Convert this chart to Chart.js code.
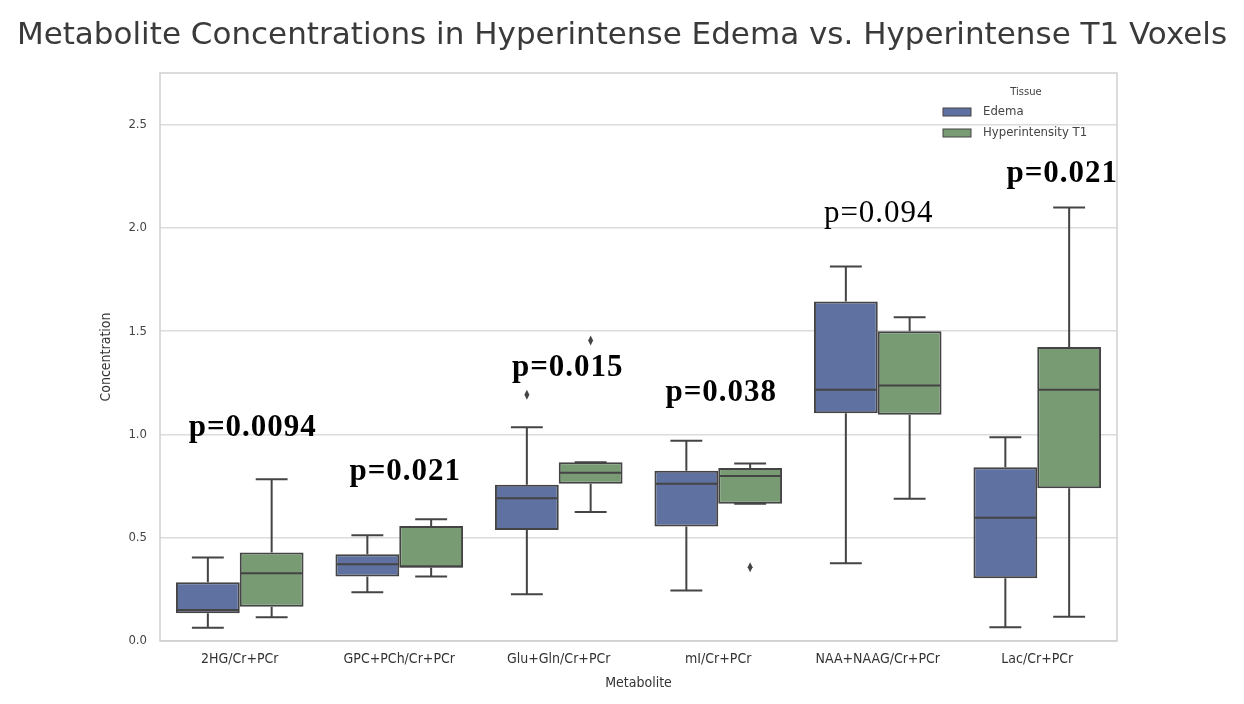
<!DOCTYPE html>
<html>
<head>
<meta charset="utf-8">
<script src="https://cdn.jsdelivr.net/npm/chart.js@4.4.1/dist/chart.umd.min.js"></script>
<style>
  html, body { margin: 0; padding: 0; background: #fff; }
  #wrap { width: 1244px; height: 704px; }
</style>
</head>
<body>
<div id="wrap"><canvas id="myChart" width="1244" height="704"></canvas></div>
<script>
var categories = ['2HG/Cr+PCr', 'GPC+PCh/Cr+PCr', 'Glu+Gln/Cr+PCr', 'mI/Cr+PCr', 'NAA+NAAG/Cr+PCr', 'Lac/Cr+PCr'];
var yTicks = [0, 0.5, 1.0, 1.5, 2.0, 2.5];

// Edema box stats
var edemaLo  = [0.064, 0.236, 0.226, 0.244, 0.376, 0.066];
var edemaQ1  = [0.134, 0.312, 0.538, 0.554, 1.103, 0.304];
var edemaMed = [0.150, 0.372, 0.691, 0.761, 1.216, 0.597];
var edemaQ3  = [0.284, 0.420, 0.756, 0.824, 1.644, 0.841];
var edemaHi  = [0.404, 0.512, 1.035, 0.969, 1.813, 0.987];
var edemaOut = [[], [], [1.192], [], [], []];

// Hyperintensity T1 box stats
var t1Lo  = [0.115, 0.312, 0.624, 0.664, 0.689, 0.118];
var t1Q1  = [0.166, 0.355, 0.761, 0.664, 1.095, 0.740];
var t1Med = [0.328, 0.362, 0.815, 0.799, 1.237, 1.216];
var t1Q3  = [0.428, 0.557, 0.866, 0.837, 1.500, 1.423];
var t1Hi  = [0.783, 0.590, 0.866, 0.859, 1.568, 2.099];
var t1Out = [[], [], [1.455], [0.357], [], []];

// p-value annotations
var pLabels = ['p=0.0094', 'p=0.021', 'p=0.015', 'p=0.038', 'p=0.094', 'p=0.021'];
var pBold   = [true, true, true, true, false, true];
var pAt     = [1.03, 0.82, 1.32, 1.20, 2.07, 2.26];

const ctx = document.getElementById('myChart');
const lineCol = '#444444';

const frame = {
  id: 'frame',
  beforeDatasetsDraw: function (chart) {
    const a = chart.chartArea, c = chart.ctx;
    c.save();
    c.strokeStyle = '#cfcfcf';
    c.lineWidth = 1.5;
    c.strokeRect(a.left, a.top, a.right - a.left, a.bottom - a.top);
    c.restore();
  }
};

const boxExtras = {
  id: 'boxExtras',
  afterDatasetsDraw: function (chart) {
    const c = chart.ctx, y = chart.scales.y;
    chart.data.datasets.forEach(function (ds, di) {
      const meta = chart.getDatasetMeta(di);
      meta.data.forEach(function (bar, i) {
        const x = bar.x, w = bar.width, cap = w / 4;
        const q1 = y.getPixelForValue(ds.q1[i]);
        const q3 = y.getPixelForValue(ds.q3[i]);
        const lo = y.getPixelForValue(ds.lo[i]);
        const hi = y.getPixelForValue(ds.hi[i]);
        const med = y.getPixelForValue(ds.med[i]);
        c.save();
        c.strokeStyle = lineCol;
        c.lineWidth = 2;
        c.beginPath();
        c.moveTo(x, q3); c.lineTo(x, hi);
        c.moveTo(x, q1); c.lineTo(x, lo);
        c.moveTo(x - cap, hi); c.lineTo(x + cap, hi);
        c.moveTo(x - cap, lo); c.lineTo(x + cap, lo);
        c.moveTo(x - w / 2 + 1, med); c.lineTo(x + w / 2 - 1, med);
        c.stroke();
        c.fillStyle = lineCol;
        ds.out[i].forEach(function (v) {
          const py = y.getPixelForValue(v);
          c.beginPath();
          c.moveTo(x, py - 5); c.lineTo(x + 2.5, py);
          c.lineTo(x, py + 5); c.lineTo(x - 2.5, py);
          c.closePath();
          c.fill();
        });
        c.restore();
      });
    });
  }
};

const texts = {
  id: 'texts',
  afterDraw: function (chart) {
    const c = chart.ctx, a = chart.chartArea, xs = chart.scales.x, y = chart.scales.y;
    c.save();
    // title
    c.fillStyle = '#3a3a3a';
    c.font = '31px "DejaVu Sans"';
    c.textAlign = 'center';
    c.textBaseline = 'middle';
    c.fillText('Metabolite Concentrations in Hyperintense Edema vs. Hyperintense T1 Voxels', chart.width / 2, 36);
    // p-values
    c.fillStyle = '#000';
    c.letterSpacing = '1px';
    const shift = [13, 6, 9, 3, 1, 25];
    pLabels.forEach(function (t, i) {
      c.font = (pBold[i] ? 'bold ' : '') + '31px "Liberation Serif"';
      c.fillText(t, xs.getPixelForValue(i) + shift[i], y.getPixelForValue(pAt[i]));
    });
    c.letterSpacing = '0px';
    // legend
    c.font = '10px "DejaVu Sans"';
    c.fillStyle = '#444';
    c.fillText('Tissue', a.right - 91, a.top + 19);
    c.textAlign = 'left';
    c.font = '13px "DejaVu Sans Condensed", "DejaVu Sans"';
    chart.data.datasets.forEach(function (ds, i) {
      const ry = a.top + 39 + i * 21;
      c.fillStyle = ds.backgroundColor;
      c.fillRect(a.right - 174, ry - 4, 28, 8);
      c.strokeStyle = lineCol;
      c.lineWidth = 1;
      c.strokeRect(a.right - 174, ry - 4, 28, 8);
      c.fillStyle = '#444';
      c.fillText(ds.label, a.right - 134, ry);
    });
    c.restore();
  }
};

function makeSet(label, color, lo, q1, med, q3, hi, out) {
  return {
    label: label,
    data: q1.map(function (v, i) { return [v, q3[i]]; }),
    backgroundColor: color,
    borderColor: lineCol,
    borderWidth: 2,
    borderSkipped: false,
    categoryPercentage: 0.8,
    barPercentage: 1.0,
    lo: lo, q1: q1, med: med, q3: q3, hi: hi, out: out
  };
}

new Chart(ctx, {
  type: 'bar',
  data: {
    labels: categories,
    datasets: [
      makeSet('Edema', '#5e71a0', edemaLo, edemaQ1, edemaMed, edemaQ3, edemaHi, edemaOut),
      makeSet('Hyperintensity T1', '#789b74', t1Lo, t1Q1, t1Med, t1Q3, t1Hi, t1Out)
    ]
  },
  options: {
    responsive: false,
    animation: false,
    layout: { padding: { left: 98, right: 127, top: 73, bottom: 12 } },
    plugins: {
      legend: { display: false },
      tooltip: { enabled: false },
      title: { display: false }
    },
    scales: {
      x: {
        grid: { display: false, drawTicks: false },
        border: { display: false },
        ticks: {
          color: '#333',
          padding: 10,
          font: { family: '"DejaVu Sans Condensed", "DejaVu Sans"', size: 14 }
        },
        title: {
          display: true,
          text: 'Metabolite',
          color: '#333',
          padding: { top: 2, bottom: 0 },
          font: { family: '"DejaVu Sans Condensed", "DejaVu Sans"', size: 14 }
        },
        afterFit: function (s) { s.height = 51; }
      },
      y: {
        min: 0,
        max: 2.75,
        afterBuildTicks: function (s) {
          s.ticks = yTicks.map(function (v) { return { value: v }; });
        },
        grid: { color: '#dcdcdc', lineWidth: 1.5, drawTicks: false },
        border: { display: false },
        ticks: {
          color: '#444',
          padding: 13,
          font: { family: '"DejaVu Sans Condensed", "DejaVu Sans"', size: 13 },
          callback: function (v) { return Number(v).toFixed(1); }
        },
        title: {
          display: true,
          text: 'Concentration',
          color: '#333',
          padding: 0,
          font: { family: '"DejaVu Sans Condensed", "DejaVu Sans"', size: 14 }
        },
        afterFit: function (s) { s.width = 62; }
      }
    }
  },
  plugins: [frame, boxExtras, texts]
});
</script>
</body>
</html>
